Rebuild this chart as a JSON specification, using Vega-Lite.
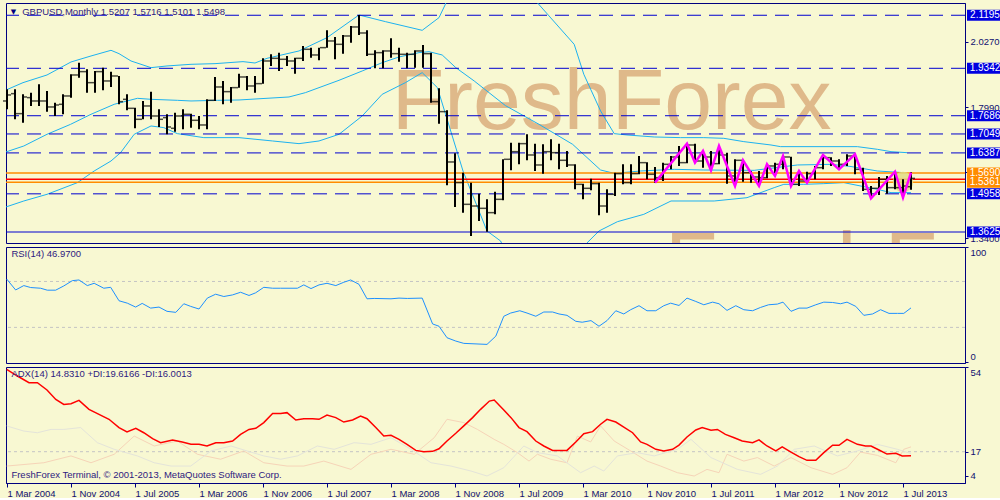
{
"$schema": "https://vega.github.io/schema/vega-lite/v6.json",
"background": "#F8F8D2",
"padding": {"left": 2, "top": 2, "right": 0, "bottom": 0},
"spacing": 4,
"bounds": "flush",
"resolve": {"scale": {"color": "independent"}},
"config": {
  "view": {"stroke": "#000080", "strokeWidth": 1},
  "axis": {"grid": false, "labelFont": "Liberation Sans", "labelFontSize": 9.5, "labelColor": "#101070", "domainColor": "#000080", "tickColor": "#000080", "tickSize": 3, "labelPadding": 2},
  "text": {"font": "Liberation Sans"}
},
"datasets": {
  "bars": [
{"i":0,"o":1.8201,"h":1.8609,"l":1.7910,"c":1.8411},{"i":1,"o":1.8457,"h":1.8609,"l":1.7561,"c":1.7759},{"i":2,"o":1.7759,"h":1.8434,"l":1.7444,"c":1.8341},{"i":3,"o":1.8318,"h":1.8492,"l":1.8027,"c":1.8201},{"i":4,"o":1.8201,"h":1.8783,"l":1.8027,"c":1.8201},{"i":5,"o":1.8201,"h":1.8550,"l":1.7829,"c":1.7992},{"i":6,"o":1.7992,"h":1.8143,"l":1.7677,"c":1.8061},{"i":7,"o":1.8085,"h":1.8434,"l":1.7736,"c":1.8376},{"i":8,"o":1.8376,"h":1.9133,"l":1.8318,"c":1.9109},{"i":9,"o":1.9109,"h":1.9540,"l":1.9016,"c":1.9226},
{"i":10,"o":1.9226,"h":1.9307,"l":1.8492,"c":1.8841},{"i":11,"o":1.8841,"h":1.9249,"l":1.8492,"c":1.9226},{"i":12,"o":1.9226,"h":1.9365,"l":1.8574,"c":1.8900},{"i":13,"o":1.8900,"h":1.9226,"l":1.8690,"c":1.9074},{"i":14,"o":1.9074,"h":1.9074,"l":1.8085,"c":1.8178},{"i":15,"o":1.8259,"h":1.8434,"l":1.7875,"c":1.7945},{"i":16,"o":1.7945,"h":1.7968,"l":1.7247,"c":1.7561},{"i":17,"o":1.7561,"h":1.8201,"l":1.7561,"c":1.8027},{"i":18,"o":1.8027,"h":1.8527,"l":1.7561,"c":1.7677},{"i":19,"o":1.7677,"h":1.7910,"l":1.7293,"c":1.7561},
{"i":20,"o":1.7619,"h":1.7736,"l":1.7037,"c":1.7293},{"i":21,"o":1.7247,"h":1.7794,"l":1.7130,"c":1.7677},{"i":22,"o":1.7677,"h":1.7910,"l":1.7212,"c":1.7736},{"i":23,"o":1.7736,"h":1.7759,"l":1.7270,"c":1.7526},{"i":24,"o":1.7526,"h":1.7677,"l":1.7212,"c":1.7363},{"i":25,"o":1.7363,"h":1.8259,"l":1.7212,"c":1.8224},{"i":26,"o":1.8224,"h":1.9039,"l":1.8201,"c":1.8690},{"i":27,"o":1.8690,"h":1.8900,"l":1.8085,"c":1.8527},{"i":28,"o":1.8527,"h":1.8690,"l":1.8143,"c":1.8667},{"i":29,"o":1.8667,"h":1.9156,"l":1.8667,"c":1.9039},
{"i":30,"o":1.9039,"h":1.9074,"l":1.8574,"c":1.8725},{"i":31,"o":1.8725,"h":1.9074,"l":1.8492,"c":1.8807},{"i":32,"o":1.8807,"h":1.9691,"l":1.8807,"c":1.9598},{"i":33,"o":1.9598,"h":1.9831,"l":1.9424,"c":1.9691},{"i":34,"o":1.9691,"h":1.9889,"l":1.9249,"c":1.9657},{"i":35,"o":1.9657,"h":1.9773,"l":1.9424,"c":1.9598},{"i":36,"o":1.9598,"h":1.9715,"l":1.9156,"c":1.9691},{"i":37,"o":1.9691,"h":2.0122,"l":1.9598,"c":2.0006},{"i":38,"o":2.0006,"h":2.0064,"l":1.9715,"c":1.9808},{"i":39,"o":1.9808,"h":2.0064,"l":1.9622,"c":2.0064},
{"i":40,"o":2.0064,"h":2.0669,"l":2.0064,"c":2.0297},{"i":41,"o":2.0297,"h":2.0437,"l":1.9657,"c":2.0180},{"i":42,"o":2.0180,"h":2.0506,"l":1.9854,"c":2.0471},{"i":43,"o":2.0471,"h":2.0821,"l":2.0239,"c":2.0786},{"i":44,"o":2.0786,"h":2.1205,"l":2.0506,"c":2.0576},{"i":45,"o":2.0576,"h":2.0669,"l":1.9773,"c":1.9831},{"i":46,"o":1.9831,"h":1.9971,"l":1.9342,"c":1.9889},{"i":47,"o":1.9889,"h":1.9971,"l":1.9342,"c":1.9948},{"i":48,"o":1.9948,"h":2.0390,"l":1.9715,"c":1.9854},{"i":49,"o":1.9854,"h":2.0064,"l":1.9575,"c":1.9831},
{"i":50,"o":1.9831,"h":1.9889,"l":1.9342,"c":1.9831},{"i":51,"o":1.9831,"h":1.9971,"l":1.9365,"c":1.9948},{"i":52,"o":1.9948,"h":2.0157,"l":1.9365,"c":1.9854},{"i":53,"o":1.9854,"h":1.9889,"l":1.8143,"c":1.8178},{"i":54,"o":1.8178,"h":1.8644,"l":1.7409,"c":1.7829},{"i":55,"o":1.7829,"h":1.7875,"l":1.5255,"c":1.6071},{"i":56,"o":1.6071,"h":1.6373,"l":1.4499,"c":1.5349},{"i":57,"o":1.5349,"h":1.5698,"l":1.4301,"c":1.4592},{"i":58,"o":1.4592,"h":1.5349,"l":1.3486,"c":1.4533},{"i":59,"o":1.4533,"h":1.4964,"l":1.4010,"c":1.4452},
{"i":60,"o":1.4452,"h":1.4766,"l":1.3637,"c":1.4301},{"i":61,"o":1.4301,"h":1.5034,"l":1.4242,"c":1.4766},{"i":62,"o":1.4766,"h":1.6164,"l":1.4731,"c":1.6164},{"i":63,"o":1.6164,"h":1.6746,"l":1.5779,"c":1.6431},{"i":64,"o":1.6431,"h":1.6746,"l":1.5989,"c":1.6711},{"i":65,"o":1.6711,"h":1.7037,"l":1.6129,"c":1.6315},{"i":66,"o":1.6315,"h":1.6711,"l":1.5756,"c":1.5966},{"i":67,"o":1.5966,"h":1.6688,"l":1.5663,"c":1.6431},{"i":68,"o":1.6431,"h":1.6862,"l":1.6129,"c":1.6396},{"i":69,"o":1.6396,"h":1.6711,"l":1.5814,"c":1.6129},
{"i":70,"o":1.6129,"h":1.6455,"l":1.5896,"c":1.5966},{"i":71,"o":1.5966,"h":1.5989,"l":1.5116,"c":1.5290},{"i":72,"o":1.5290,"h":1.5314,"l":1.4766,"c":1.5151},{"i":73,"o":1.5151,"h":1.5488,"l":1.5081,"c":1.5314},{"i":74,"o":1.5314,"h":1.5349,"l":1.4208,"c":1.4533},{"i":75,"o":1.4533,"h":1.5116,"l":1.4301,"c":1.4941},{"i":76,"o":1.4941,"h":1.5698,"l":1.4883,"c":1.5663},{"i":77,"o":1.5663,"h":1.5989,"l":1.5290,"c":1.5349},{"i":78,"o":1.5349,"h":1.5989,"l":1.5290,"c":1.5663},{"i":79,"o":1.5663,"h":1.6280,"l":1.5640,"c":1.6047},
{"i":80,"o":1.6047,"h":1.6060,"l":1.5465,"c":1.5640},{"i":81,"o":1.5640,"h":1.5896,"l":1.5349,"c":1.5523},{"i":82,"o":1.5523,"h":1.6047,"l":1.5407,"c":1.5989},{"i":83,"o":1.5989,"h":1.6280,"l":1.5814,"c":1.6245},{"i":84,"o":1.6245,"h":1.6629,"l":1.5931,"c":1.6047},{"i":85,"o":1.6047,"h":1.6711,"l":1.6030,"c":1.6664},{"i":86,"o":1.6664,"h":1.6711,"l":1.6047,"c":1.6105},{"i":87,"o":1.6105,"h":1.6455,"l":1.5872,"c":1.6245},{"i":88,"o":1.6245,"h":1.6455,"l":1.5756,"c":1.6012},{"i":89,"o":1.6012,"h":1.6629,"l":1.5990,"c":1.6315},
{"i":90,"o":1.6315,"h":1.6396,"l":1.5314,"c":1.5582},{"i":91,"o":1.5582,"h":1.6164,"l":1.5232,"c":1.6129},{"i":92,"o":1.6129,"h":1.6150,"l":1.5383,"c":1.5698},{"i":93,"o":1.5698,"h":1.5756,"l":1.5349,"c":1.5547},{"i":94,"o":1.5547,"h":1.5756,"l":1.5232,"c":1.5523},{"i":95,"o":1.5523,"h":1.5989,"l":1.5500,"c":1.5931},{"i":96,"o":1.5931,"h":1.6047,"l":1.5582,"c":1.5989},{"i":97,"o":1.5989,"h":1.6280,"l":1.5814,"c":1.6245},{"i":98,"o":1.6245,"h":1.6250,"l":1.5232,"c":1.5290},{"i":99,"o":1.5290,"h":1.5756,"l":1.5232,"c":1.5407},
{"i":100,"o":1.5407,"h":1.5733,"l":1.5349,"c":1.5663},{"i":101,"o":1.5663,"h":1.5931,"l":1.5465,"c":1.5872},{"i":102,"o":1.5872,"h":1.6315,"l":1.5814,"c":1.6222},{"i":103,"o":1.6222,"h":1.6240,"l":1.5931,"c":1.6105},{"i":104,"o":1.6105,"h":1.6164,"l":1.5814,"c":1.5989},{"i":105,"o":1.5989,"h":1.6338,"l":1.5931,"c":1.6280},{"i":106,"o":1.6280,"h":1.6338,"l":1.5640,"c":1.5814},{"i":107,"o":1.5814,"h":1.5872,"l":1.5058,"c":1.5116},{"i":108,"o":1.5116,"h":1.5232,"l":1.4801,"c":1.5151},{"i":109,"o":1.5151,"h":1.5547,"l":1.4918,"c":1.5465},
{"i":110,"o":1.5465,"h":1.5582,"l":1.4964,"c":1.5174},{"i":111,"o":1.5174,"h":1.5733,"l":1.5116,"c":1.5174},{"i":112,"o":1.5174,"h":1.5465,"l":1.4801,"c":1.5232},{"i":113,"o":1.5207,"h":1.5716,"l":1.5101,"c":1.5498}
  ],
  "bb": [
{"b":"u","i":-0.4,"p":1.8550},{"b":"u","i":2,"p":1.8841},{"b":"u","i":5,"p":1.9109},{"b":"u","i":8,"p":1.9563},{"b":"u","i":10.5,"p":1.9773},{"b":"u","i":13,"p":1.9971},{"b":"u","i":14,"p":1.9854},{"b":"u","i":15.5,"p":1.9598},{"b":"u","i":18,"p":1.9365},{"b":"u","i":20,"p":1.9424},{"b":"u","i":23,"p":1.9482},{"b":"u","i":26,"p":1.9505},{"b":"u","i":29.5,"p":1.9575},{"b":"u","i":31,"p":1.9528},{"b":"u","i":32.5,"p":1.9691},{"b":"u","i":36.5,"p":1.9948},{"b":"u","i":40,"p":2.0413},{"b":"u","i":44,"p":2.1205},{"b":"u","i":47.3,"p":2.0972},{"b":"u","i":51.9,"p":2.0669},{"b":"u","i":54,"p":2.1112},{"b":"u","i":54.8,"p":2.1578},{"b":"u","i":56,"p":2.2858},{"b":"u","i":65,"p":2.2858},{"b":"u","i":66.1,"p":2.1694},{"b":"u","i":70.9,"p":2.0180},{"b":"u","i":72.1,"p":1.9133},{"b":"u","i":74.2,"p":1.7852},{"b":"u","i":75.9,"p":1.7060},{"b":"u","i":77.5,"p":1.7014},{"b":"u","i":80.9,"p":1.6944},{"b":"u","i":84.2,"p":1.6921},{"b":"u","i":87.1,"p":1.6921},{"b":"u","i":89.6,"p":1.6897},{"b":"u","i":92.1,"p":1.6781},{"b":"u","i":95.5,"p":1.6664},{"b":"u","i":96.7,"p":1.6606},{"b":"u","i":106.3,"p":1.6606},{"b":"u","i":108.8,"p":1.6513},{"b":"u","i":110.5,"p":1.6431},{"b":"u","i":112.5,"p":1.6396},
{"b":"m","i":-0.4,"p":1.6396},{"b":"m","i":2.1,"p":1.6629},{"b":"m","i":5.0,"p":1.7037},{"b":"m","i":7.95,"p":1.7386},{"b":"m","i":10.5,"p":1.7736},{"b":"m","i":13.4,"p":1.8085},{"b":"m","i":16.3,"p":1.8294},{"b":"m","i":18.0,"p":1.8259},{"b":"m","i":21.3,"p":1.8224},{"b":"m","i":23.0,"p":1.8201},{"b":"m","i":26.3,"p":1.8224},{"b":"m","i":29.0,"p":1.8236},{"b":"m","i":35.25,"p":1.8341},{"b":"m","i":37.3,"p":1.8492},{"b":"m","i":41.5,"p":1.8923},{"b":"m","i":44.4,"p":1.9249},{"b":"m","i":46.9,"p":1.9540},{"b":"m","i":49.0,"p":1.9738},{"b":"m","i":51.5,"p":1.9889},{"b":"m","i":52.75,"p":1.9924},{"b":"m","i":54.4,"p":1.9808},{"b":"m","i":56.1,"p":1.9365},{"b":"m","i":58.4,"p":1.8900},{"b":"m","i":62.3,"p":1.8040},{"b":"m","i":66.5,"p":1.7386},{"b":"m","i":70.7,"p":1.6688},{"b":"m","i":74.2,"p":1.5790},{"b":"m","i":75.9,"p":1.5674},{"b":"m","i":79.2,"p":1.5756},{"b":"m","i":83.4,"p":1.5814},{"b":"m","i":87.1,"p":1.5790},{"b":"m","i":93.4,"p":1.5779},{"b":"m","i":98.8,"p":1.5966},{"b":"m","i":103.0,"p":1.5989},{"b":"m","i":105.5,"p":1.5912},{"b":"m","i":108.8,"p":1.5756},{"b":"m","i":112.1,"p":1.5698},
{"b":"l","i":-0.4,"p":1.4475},{"b":"l","i":2.1,"p":1.4708},{"b":"l","i":5.0,"p":1.4941},{"b":"l","i":8.8,"p":1.5349},{"b":"l","i":10.9,"p":1.5756},{"b":"l","i":13.0,"p":1.6105},{"b":"l","i":14.2,"p":1.6396},{"b":"l","i":15.9,"p":1.7037},{"b":"l","i":18.0,"p":1.7328},{"b":"l","i":19.6,"p":1.7270},{"b":"l","i":21.3,"p":1.7060},{"b":"l","i":24.6,"p":1.6921},{"b":"l","i":29.0,"p":1.6921},{"b":"l","i":33.2,"p":1.6804},{"b":"l","i":36.5,"p":1.6711},{"b":"l","i":39.0,"p":1.6804},{"b":"l","i":41.5,"p":1.7037},{"b":"l","i":44.4,"p":1.7677},{"b":"l","i":46.9,"p":1.8434},{"b":"l","i":49.8,"p":1.8841},{"b":"l","i":51.9,"p":1.9191},{"b":"l","i":53.8,"p":1.8667},{"b":"l","i":57.0,"p":1.5756},{"b":"l","i":60.0,"p":1.3661},{"b":"l","i":61.7,"p":1.3311},{"b":"l","i":63,"p":1.25},{"b":"l","i":72,"p":1.25},{"b":"l","i":72.5,"p":1.3243},{"b":"l","i":74.0,"p":1.3661},{"b":"l","i":76.3,"p":1.3985},{"b":"l","i":79.6,"p":1.4242},{"b":"l","i":83.0,"p":1.4708},{"b":"l","i":88.4,"p":1.4708},{"b":"l","i":92.5,"p":1.4824},{"b":"l","i":95.9,"p":1.5174},{"b":"l","i":97.1,"p":1.5290},{"b":"l","i":99.6,"p":1.5290},{"b":"l","i":102.1,"p":1.5314},{"b":"l","i":104.6,"p":1.5349},{"b":"l","i":108.8,"p":1.5116},{"b":"l","i":110.5,"p":1.5000},{"b":"l","i":113,"p":1.5000}
  ],
  "zig": [
{"i":81,"p":1.5349},{"i":85,"p":1.6711},{"i":86,"p":1.6047},{"i":87,"p":1.6455},{"i":88,"p":1.5779},{"i":89,"p":1.6629},{"i":91,"p":1.5232},{"i":92,"p":1.6129},{"i":94,"p":1.5232},{"i":95,"p":1.5989},{"i":96,"p":1.5582},{"i":97,"p":1.6280},{"i":98,"p":1.5232},{"i":99,"p":1.5756},{"i":100,"p":1.5349},{"i":102,"p":1.6315},{"i":104,"p":1.5814},{"i":106,"p":1.6338},{"i":108,"p":1.4801},{"i":111,"p":1.5733},{"i":112,"p":1.4824},{"i":113,"p":1.5698}
  ],
  "dashed": [{"v":2.1195},{"v":1.9342},{"v":1.7686},{"v":1.7049},{"v":1.6387},{"v":1.4958}],
  "boxes": [{"v":2.1195,"k":"b"},{"v":1.9342,"k":"b"},{"v":1.7686,"k":"b"},{"v":1.7049,"k":"b"},{"v":1.6387,"k":"b"},{"v":1.5690,"k":"o"},{"v":1.5361,"k":"o"},{"v":1.4958,"k":"b"},{"v":1.3625,"k":"b"}],
  "rsi": [
{"i":-0.04,"v":72.1},{"i":1.08,"v":62.6},{"i":2.1,"v":66.4},{"i":2.96,"v":64.7},{"i":4.2,"v":64.1},{"i":5.04,"v":62.4},{"i":6.08,"v":62.4},{"i":7.1,"v":66.1},{"i":8.17,"v":70.7},{"i":9.0,"v":71.3},{"i":10.04,"v":66.4},{"i":10.9,"v":68.4},{"i":12.1,"v":64.1},{"i":12.96,"v":64.9},{"i":14.0,"v":53.2},{"i":15.04,"v":51.1},{"i":16.08,"v":47.7},{"i":16.9,"v":50.9},{"i":17.96,"v":46.8},{"i":19.0,"v":47.7},{"i":20.0,"v":44.0},{"i":21.1,"v":43.1},{"i":22.1,"v":50.6},{"i":22.96,"v":48.3},{"i":24.0,"v":46.0},{"i":25.04,"v":55.5},{"i":26.08,"v":58.9},{"i":27.1,"v":56.9},{"i":28.2,"v":58.3},{"i":29.2,"v":60.6},{"i":30.25,"v":57.8},{"i":31.08,"v":60.1},{"i":32.1,"v":64.9},{"i":33.2,"v":64.1},{"i":34.2,"v":64.1},{"i":36.3,"v":64.1},{"i":37.1,"v":67.0},{"i":38.0,"v":63.8},{"i":39.0,"v":67.0},{"i":40.0,"v":68.4},{"i":41.1,"v":66.4},{"i":42.1,"v":69.3},{"i":42.96,"v":71.3},{"i":44.0,"v":67.5},{"i":45.0,"v":54.9},{"i":45.9,"v":55.2},{"i":48.0,"v":54.9},{"i":49.0,"v":55.5},{"i":50.04,"v":55.2},{"i":51.9,"v":55.5},{"i":53.2,"v":33.0},{"i":54.0,"v":31.0},{"i":55.0,"v":21.0},{"i":56.1,"v":18.1},{"i":57.1,"v":16.1},{"i":60.0,"v":15.2},{"i":61.1,"v":22.4},{"i":62.1,"v":39.7},{"i":62.96,"v":42.5},{"i":64.1,"v":44.5},{"i":65.0,"v":42.5},{"i":66.1,"v":39.7},{"i":67.1,"v":43.4},{"i":68.2,"v":43.4},{"i":69.0,"v":41.7},{"i":70.0,"v":40.5},{"i":71.1,"v":35.3},{"i":71.9,"v":34.5},{"i":73.0,"v":35.9},{"i":74.0,"v":31.0},{"i":75.0,"v":35.9},{"i":76.1,"v":44.5},{"i":77.1,"v":41.7},{"i":77.96,"v":45.4},{"i":79.0,"v":48.9},{"i":80.0,"v":44.5},{"i":81.1,"v":44.5},{"i":82.1,"v":48.9},{"i":82.96,"v":51.1},{"i":84.0,"v":49.1},{"i":85.0,"v":55.5},{"i":86.1,"v":52.6},{"i":87.1,"v":49.7},{"i":88.2,"v":52.0},{"i":89.0,"v":50.6},{"i":90.0,"v":44.8},{"i":91.1,"v":48.9},{"i":92.1,"v":45.4},{"i":93.2,"v":44.5},{"i":94.2,"v":47.4},{"i":95.2,"v":49.7},{"i":96.3,"v":50.3},{"i":97.0,"v":52.0},{"i":98.0,"v":44.0},{"i":99.0,"v":46.8},{"i":100.0,"v":46.8},{"i":101.1,"v":49.7},{"i":102.1,"v":52.0},{"i":103.2,"v":51.7},{"i":104.2,"v":50.6},{"i":105.0,"v":52.0},{"i":106.1,"v":48.3},{"i":107.1,"v":40.5},{"i":108.2,"v":41.7},{"i":109.2,"v":45.4},{"i":110.25,"v":42.2},{"i":111.3,"v":42.2},{"i":112.1,"v":42.2},{"i":113,"v":46.97}
  ],
  "adx": [
{"i":-0.04,"v":61.7},{"i":1.3,"v":58.1},{"i":2.75,"v":54.5},{"i":3.8,"v":54.5},{"i":5.0,"v":50.5},{"i":6.1,"v":45.4},{"i":7.1,"v":42.7},{"i":8.0,"v":43.1},{"i":9.0,"v":44.9},{"i":10.25,"v":40.0},{"i":11.5,"v":37.3},{"i":12.75,"v":34.6},{"i":14.0,"v":30.1},{"i":15.0,"v":27.7},{"i":16.1,"v":29.7},{"i":17.1,"v":27.3},{"i":18.2,"v":24.1},{"i":19.2,"v":21.9},{"i":20.7,"v":23.4},{"i":21.9,"v":22.3},{"i":23.0,"v":21.0},{"i":24.0,"v":21.0},{"i":25.0,"v":20.1},{"i":26.1,"v":21.9},{"i":27.1,"v":21.9},{"i":28.2,"v":22.8},{"i":29.2,"v":26.4},{"i":30.25,"v":29.1},{"i":31.1,"v":29.7},{"i":32.1,"v":32.8},{"i":33.2,"v":37.7},{"i":34.2,"v":37.7},{"i":35.0,"v":38.2},{"i":36.1,"v":34.2},{"i":37.1,"v":34.9},{"i":38.2,"v":34.9},{"i":39.0,"v":34.6},{"i":40.0,"v":36.9},{"i":41.1,"v":35.5},{"i":42.1,"v":33.1},{"i":43.2,"v":34.2},{"i":44.2,"v":36.4},{"i":45.0,"v":34.9},{"i":46.1,"v":30.1},{"i":47.1,"v":25.5},{"i":48.0,"v":25.9},{"i":49.0,"v":23.7},{"i":50.0,"v":21.0},{"i":51.1,"v":17.7},{"i":52.1,"v":17.0},{"i":53.2,"v":17.2},{"i":54.0,"v":18.6},{"i":55.0,"v":22.8},{"i":56.1,"v":27.0},{"i":57.1,"v":31.0},{"i":58.2,"v":35.5},{"i":59.2,"v":40.0},{"i":60.3,"v":44.5},{"i":60.9,"v":45.1},{"i":62.1,"v":39.6},{"i":63.0,"v":35.5},{"i":64.0,"v":30.1},{"i":65.0,"v":27.9},{"i":66.1,"v":22.8},{"i":67.1,"v":20.1},{"i":68.2,"v":17.7},{"i":70.0,"v":17.7},{"i":71.1,"v":22.3},{"i":72.1,"v":26.8},{"i":73.2,"v":27.9},{"i":74.2,"v":31.9},{"i":75.0,"v":34.6},{"i":76.1,"v":33.1},{"i":77.1,"v":30.4},{"i":78.2,"v":27.3},{"i":79.2,"v":22.3},{"i":80.0,"v":21.0},{"i":81.1,"v":18.3},{"i":82.1,"v":17.4},{"i":83.2,"v":18.3},{"i":84.0,"v":20.6},{"i":85.0,"v":25.0},{"i":86.1,"v":28.8},{"i":86.9,"v":30.1},{"i":88.0,"v":28.6},{"i":88.8,"v":29.1},{"i":89.8,"v":26.4},{"i":90.9,"v":24.6},{"i":91.9,"v":22.8},{"i":93.2,"v":21.9},{"i":94.0,"v":23.4},{"i":95.0,"v":20.1},{"i":96.1,"v":17.4},{"i":96.9,"v":19.6},{"i":98.0,"v":16.8},{"i":99.0,"v":14.3},{"i":100.0,"v":12.3},{"i":101.1,"v":12.3},{"i":102.1,"v":16.5},{"i":103.2,"v":20.5},{"i":104.0,"v":20.5},{"i":105.0,"v":23.7},{"i":106.3,"v":21.0},{"i":107.3,"v":20.1},{"i":108.0,"v":20.1},{"i":109.0,"v":17.9},{"i":110.0,"v":15.7},{"i":111.1,"v":16.1},{"i":111.9,"v":14.7},{"i":113,"v":14.83}
  ],
  "dia": [
{"i":-0.04,"v":9.2},{"i":4.6,"v":11.0},{"i":8.0,"v":14.7},{"i":10.5,"v":11.0},{"i":13.4,"v":15.6},{"i":15.9,"v":25.5},{"i":18.4,"v":20.1},{"i":21.3,"v":22.8},{"i":23.8,"v":15.6},{"i":26.7,"v":12.9},{"i":29.6,"v":17.4},{"i":32.1,"v":11.0},{"i":35.0,"v":9.2},{"i":37.1,"v":9.2},{"i":39.6,"v":11.9},{"i":43.0,"v":7.4},{"i":45.5,"v":15.6},{"i":48.0,"v":18.3},{"i":50.9,"v":15.6},{"i":53.4,"v":24.6},{"i":55.0,"v":34.6},{"i":57.1,"v":32.8},{"i":58.8,"v":29.1},{"i":60.9,"v":23.7},{"i":62.1,"v":21.0},{"i":63.8,"v":16.5},{"i":65.25,"v":11.9},{"i":66.3,"v":15.6},{"i":67.96,"v":12.9},{"i":70.0,"v":11.0},{"i":71.3,"v":25.5},{"i":72.96,"v":22.3},{"i":74.2,"v":31.0},{"i":75.9,"v":22.8},{"i":77.96,"v":17.4},{"i":80.0,"v":11.9},{"i":81.7,"v":9.2},{"i":83.8,"v":5.6},{"i":85.9,"v":3.8},{"i":87.5,"v":7.4},{"i":89.0,"v":5.6},{"i":90.0,"v":15.6},{"i":92.1,"v":11.9},{"i":93.8,"v":13.8},{"i":95.9,"v":9.2},{"i":98.0,"v":13.8},{"i":100.5,"v":8.3},{"i":103.2,"v":4.7},{"i":105.0,"v":8.3},{"i":106.7,"v":16.8},{"i":108.8,"v":15.0},{"i":111.1,"v":11.0},{"i":112.1,"v":18.3},{"i":113,"v":19.62}
  ],
  "dib": [
{"i":-0.04,"v":31.0},{"i":2.1,"v":28.2},{"i":3.8,"v":27.3},{"i":5.5,"v":29.1},{"i":7.1,"v":29.1},{"i":9.2,"v":30.1},{"i":11.3,"v":21.9},{"i":13.4,"v":18.3},{"i":16.3,"v":14.7},{"i":18.4,"v":11.0},{"i":20.5,"v":9.2},{"i":22.96,"v":9.2},{"i":25.5,"v":17.4},{"i":28.0,"v":20.1},{"i":30.0,"v":17.4},{"i":32.1,"v":14.7},{"i":34.2,"v":12.9},{"i":36.3,"v":14.7},{"i":38.8,"v":20.1},{"i":40.9,"v":18.3},{"i":43.4,"v":21.9},{"i":45.5,"v":21.0},{"i":48.0,"v":24.6},{"i":50.5,"v":18.3},{"i":53.0,"v":11.0},{"i":55.5,"v":9.2},{"i":58.0,"v":6.5},{"i":60.0,"v":3.8},{"i":62.1,"v":8.3},{"i":64.6,"v":20.1},{"i":66.3,"v":16.5},{"i":68.8,"v":14.7},{"i":71.7,"v":5.6},{"i":73.4,"v":9.2},{"i":74.6,"v":6.5},{"i":76.3,"v":14.7},{"i":78.8,"v":16.5},{"i":80.9,"v":14.7},{"i":83.8,"v":18.3},{"i":85.5,"v":23.7},{"i":88.0,"v":13.8},{"i":91.3,"v":7.4},{"i":94.2,"v":4.7},{"i":96.3,"v":9.2},{"i":98.4,"v":18.3},{"i":100.9,"v":20.1},{"i":103.8,"v":14.7},{"i":106.3,"v":17.4},{"i":108.8,"v":21.0},{"i":111.3,"v":18.3},{"i":113,"v":16.0}
  ]
},
"vconcat": [
{
  "width": 959, "height": 240,
  "layer": [
    {"data": {"values": [{"w": "FreshForex"}]},
     "mark": {"type": "text", "fontSize": 86, "font": "Liberation Sans", "color": "#DFB98A", "align": "left", "baseline": "alphabetic", "clip": true},
     "encoding": {"x": {"datum": 48.1, "type": "quantitative", "scale": {"domain": [-0.125, 119.75], "nice": false, "zero": false}, "axis": null},
                  "y": {"datum": 1.7223, "type": "quantitative", "scale": {"domain": [1.3241, 2.1623], "nice": false, "zero": false}},
                  "text": {"field": "w"}}},
    {"data": {"values": [{"w": "FreshForex"}]},
     "mark": {"type": "text", "fontSize": 86, "font": "Liberation Sans", "color": "#DFB98A", "align": "left", "baseline": "alphabetic", "clip": true},
     "encoding": {"x": {"datum": 82.25, "type": "quantitative", "axis": null},
                  "y": {"datum": 1.153, "type": "quantitative"},
                  "text": {"field": "w"}}},
    {"data": {"name": "bb"},
     "mark": {"type": "line", "color": "#1DB2F0", "strokeWidth": 1, "clip": true},
     "encoding": {"x": {"field": "i", "type": "quantitative", "axis": null},
                  "y": {"field": "p", "type": "quantitative"},
                  "detail": {"field": "b"}}},
    {"data": {"name": "dashed"},
     "mark": {"type": "rule", "color": "#0000D0", "strokeWidth": 1, "strokeDash": [14, 8]},
     "encoding": {"y": {"field": "v", "type": "quantitative"}}},
    {"data": {"values": [{"v": 1.3625}]},
     "mark": {"type": "rule", "color": "#0000D0", "strokeWidth": 1},
     "encoding": {"y": {"field": "v", "type": "quantitative"}}},
    {"data": {"values": [{"v": 1.5690}, {"v": 1.5361}]},
     "mark": {"type": "rule", "color": "#FF8C00", "strokeWidth": 1.5},
     "encoding": {"y": {"field": "v", "type": "quantitative"}}},
    {"data": {"values": [{"v": 1.547}]},
     "mark": {"type": "rule", "color": "#FF0000", "strokeWidth": 1.5},
     "encoding": {"y": {"field": "v", "type": "quantitative"}}},
    {"data": {"values": [{"g": 1}]},
     "mark": {"type": "point", "filled": true, "size": 420, "color": "#E2DC84", "opacity": 0.85},
     "encoding": {"x": {"datum": 112, "type": "quantitative", "axis": null},
                  "y": {"datum": 1.537, "type": "quantitative"}}},
    {"data": {"name": "bars"},
     "mark": {"type": "rule", "color": "#000000", "strokeWidth": 2},
     "encoding": {"x": {"field": "i", "type": "quantitative", "axis": null},
                  "y": {"field": "l", "type": "quantitative",
                        "axis": {"orient": "right", "title": null, "values": [2.144, 2.027, 1.913, 1.799, 1.685, 1.571, 1.454, 1.34], "format": ".4f", "labelFlush": false, "labelOverlap": false}},
                  "y2": {"field": "h"}}},
    {"data": {"name": "bars"},
     "mark": {"type": "tick", "orient": "horizontal", "color": "#000000", "size": 3, "thickness": 1.5, "xOffset": -2.5},
     "encoding": {"x": {"field": "i", "type": "quantitative", "axis": null},
                  "y": {"field": "o", "type": "quantitative"}}},
    {"data": {"name": "bars"},
     "mark": {"type": "tick", "orient": "horizontal", "color": "#000000", "size": 3, "thickness": 1.5, "xOffset": 2.5},
     "encoding": {"x": {"field": "i", "type": "quantitative", "axis": null},
                  "y": {"field": "c", "type": "quantitative"}}},
    {"data": {"name": "zig"},
     "mark": {"type": "line", "color": "#FF00FF", "strokeWidth": 2.5},
     "encoding": {"x": {"field": "i", "type": "quantitative", "axis": null},
                  "y": {"field": "p", "type": "quantitative"}}},
    {"data": {"name": "boxes"},
     "mark": {"type": "tick", "orient": "horizontal", "size": 36, "thickness": 11, "opacity": 1},
     "encoding": {"x": {"datum": 122.25, "type": "quantitative", "axis": null},
                  "y": {"field": "v", "type": "quantitative"},
                  "color": {"field": "k", "type": "nominal", "scale": {"domain": ["b", "o"], "range": ["#0000E0", "#FF8C00"]}, "legend": null}}},
    {"data": {"name": "boxes"},
     "mark": {"type": "text", "color": "#FFFFFF", "fontSize": 10, "align": "center", "baseline": "middle"},
     "encoding": {"x": {"datum": 122.25, "type": "quantitative", "axis": null},
                  "y": {"field": "v", "type": "quantitative"},
                  "text": {"field": "v", "format": ".4f"}}},
    {"data": {"values": [{"t": "▼"}]},
     "mark": {"type": "text", "color": "#000080", "fontSize": 7, "font": "DejaVu Sans", "align": "center", "baseline": "middle"},
     "encoding": {"x": {"datum": 0.8, "type": "quantitative", "axis": null},
                  "y": {"datum": 2.1309, "type": "quantitative"},
                  "text": {"field": "t"}}},
    {"data": {"values": [{"t": "GBPUSD,Monthly  1.5207 1.5716 1.5101 1.5498"}]},
     "mark": {"type": "text", "color": "#2E2080", "fontSize": 9.5, "align": "left", "baseline": "middle"},
     "encoding": {"x": {"datum": 1.9, "type": "quantitative", "axis": null},
                  "y": {"datum": 2.1309, "type": "quantitative"},
                  "text": {"field": "t"}}}
  ]
},
{
  "width": 959, "height": 116,
  "layer": [
    {"data": {"values": [{"v": 70}, {"v": 30}]},
     "mark": {"type": "rule", "color": "#C4C4C4", "strokeWidth": 1, "strokeDash": [3, 3]},
     "encoding": {"y": {"field": "v", "type": "quantitative", "scale": {"domain": [-1, 100], "nice": false, "zero": false},
                        "axis": {"orient": "right", "title": null, "values": [100, 70, 30, 0], "labelFlush": 3, "labelOverlap": false}}}},
    {"data": {"name": "rsi"},
     "mark": {"type": "line", "color": "#1E90FF", "strokeWidth": 1},
     "encoding": {"x": {"field": "i", "type": "quantitative", "scale": {"domain": [-0.125, 119.75], "nice": false, "zero": false}, "axis": null},
                  "y": {"field": "v", "type": "quantitative"}}},
    {"data": {"values": [{"t": "RSI(14) 46.9700"}]},
     "mark": {"type": "text", "color": "#2E2080", "fontSize": 9.5, "align": "left", "baseline": "middle"},
     "encoding": {"x": {"datum": 0.55, "type": "quantitative", "axis": null},
                  "y": {"datum": 93.5, "type": "quantitative"},
                  "text": {"field": "t"}}}
  ]
},
{
  "width": 959, "height": 116,
  "layer": [
    {"data": {"values": [{"v": 17}]},
     "mark": {"type": "rule", "color": "#C4C4C4", "strokeWidth": 1, "strokeDash": [3, 3]},
     "encoding": {"y": {"field": "v", "type": "quantitative", "scale": {"domain": [0, 63], "nice": false, "zero": false},
                        "axis": {"orient": "right", "title": null, "values": [63, 17, 4], "labelExpr": "datum.value == 63 ? '54' : datum.label", "labelFlush": 3, "labelOverlap": false}}}},
    {"data": {"name": "dia"},
     "mark": {"type": "line", "strokeWidth": 1, "color": "#F6D4B8"},
     "encoding": {"x": {"field": "i", "type": "quantitative"},
                  "y": {"field": "v", "type": "quantitative"}}},
    {"data": {"name": "dib"},
     "mark": {"type": "line", "strokeWidth": 1, "color": "#E4E4DA"},
     "encoding": {"x": {"field": "i", "type": "quantitative"},
                  "y": {"field": "v", "type": "quantitative"}}},
    {"data": {"name": "adx"},
     "mark": {"type": "line", "color": "#FF0000", "strokeWidth": 1.5},
     "encoding": {"x": {"field": "i", "type": "quantitative", "scale": {"domain": [-0.125, 119.75], "nice": false, "zero": false},
                        "axis": {"title": null, "values": [0, 8, 16, 24, 32, 40, 48, 56, 64, 72, 80, 88, 96, 104, 112], "labelExpr": "'1 ' + ['Jan','Feb','Mar','Apr','May','Jun','Jul','Aug','Sep','Oct','Nov','Dec'][(datum.value + 2) % 12] + ' ' + (2004 + floor((datum.value + 2) / 12))", "tickSize": 4, "labelAlign": "left", "labelPadding": 1, "labelOffset": 0, "labelFlush": false, "labelOverlap": false}},
                  "y": {"field": "v", "type": "quantitative"}}},
    {"data": {"values": [{"t": "ADX(14) 14.8310 +DI:19.6166 -DI:16.0013"}]},
     "mark": {"type": "text", "color": "#2E2080", "fontSize": 9.5, "align": "left", "baseline": "middle"},
     "encoding": {"x": {"datum": 0.55, "type": "quantitative"},
                  "y": {"datum": 59.0, "type": "quantitative"},
                  "text": {"field": "t"}}},
    {"data": {"values": [{"t": "FreshForex Terminal, © 2001-2013, MetaQuotes Software Corp."}]},
     "mark": {"type": "text", "color": "#2E2080", "fontSize": 9.5, "align": "left", "baseline": "middle"},
     "encoding": {"x": {"datum": 0.55, "type": "quantitative"},
                  "y": {"datum": 4.2, "type": "quantitative"},
                  "text": {"field": "t"}}}
  ]
}
]
}
